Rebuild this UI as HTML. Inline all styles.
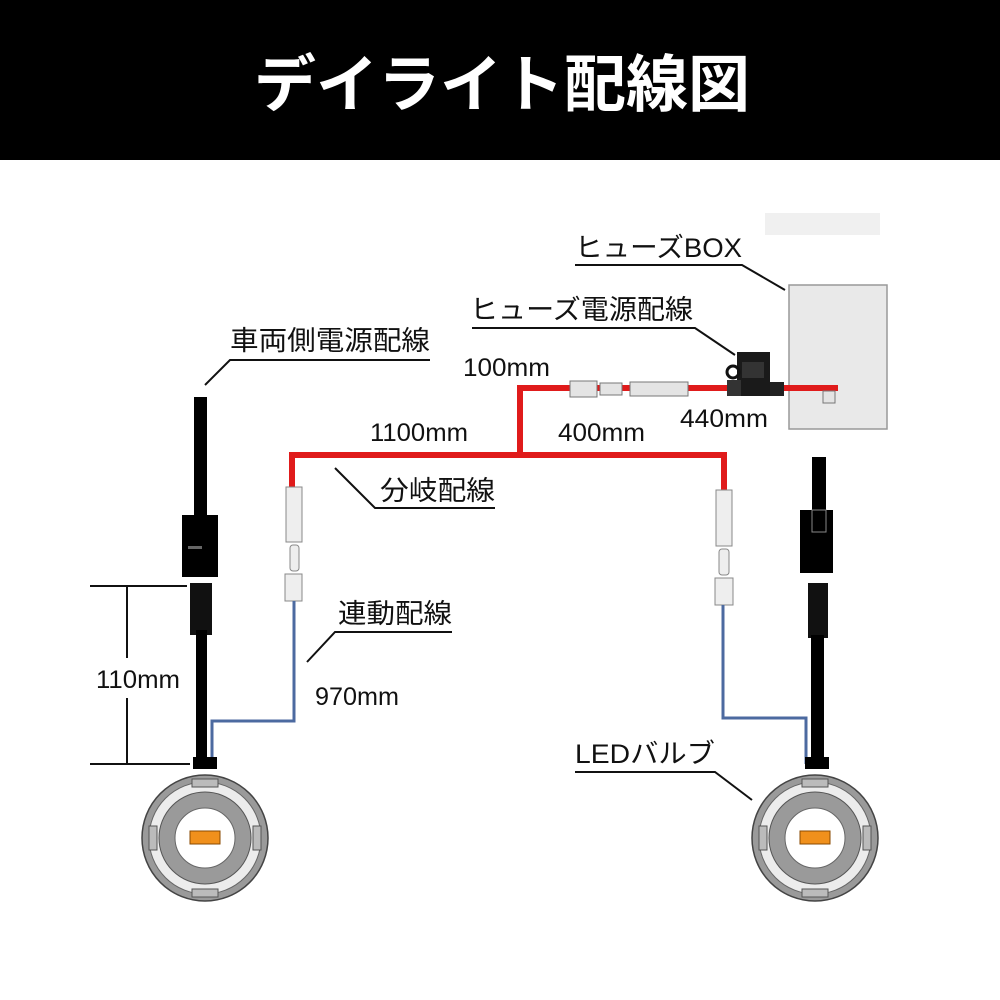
<!DOCTYPE html>
<html><head><meta charset="utf-8"><style>
body{margin:0;background:#fff}
svg{display:block}
text{font-family:"Liberation Sans","Noto Sans CJK JP",sans-serif;fill:#111}
.m{font-family:"Liberation Sans Narrow","Liberation Sans",sans-serif}
</style></head><body>
<svg width="1000" height="1000" viewBox="0 0 1000 1000">
<rect x="0" y="0" width="1000" height="160" fill="#000"/>
<text x="502" y="106" text-anchor="middle" font-size="62" font-weight="bold" style="fill:#fff">デイライト配線図</text>

<rect x="765" y="213" width="115" height="22" fill="#f0f0f0"/>
<rect x="789" y="285" width="98" height="144" fill="#e9e9e9" stroke="#999" stroke-width="1.5"/>

<g stroke="#111" stroke-width="2" fill="none">
<polyline points="575,265 742,265 785,290"/>
<polyline points="472,328 695,328 735,355"/>
<polyline points="430,360 230,360 205,385"/>
<polyline points="495,508 375,508 335,468"/>
<polyline points="452,632 335,632 307,662"/>
<polyline points="575,772 715,772 752,800"/>
<line x1="90" y1="586" x2="187" y2="586"/>
<line x1="90" y1="764" x2="190" y2="764"/>
<line x1="127" y1="586" x2="127" y2="658"/>
<line x1="127" y1="698" x2="127" y2="764"/>
</g>
<g font-size="27">
<text x="575" y="257" textLength="167" lengthAdjust="spacingAndGlyphs">ヒューズBOX</text>
<text x="470" y="319" textLength="223" lengthAdjust="spacingAndGlyphs">ヒューズ電源配線</text>
<text x="230" y="350" textLength="200" lengthAdjust="spacingAndGlyphs">車両側電源配線</text>
<text x="380" y="500" textLength="115" lengthAdjust="spacingAndGlyphs">分岐配線</text>
<text x="338" y="623" textLength="114" lengthAdjust="spacingAndGlyphs">連動配線</text>
<text x="575" y="763" textLength="140" lengthAdjust="spacingAndGlyphs">LEDバルブ</text>
</g>
<g font-size="25">
<text x="463" y="376" textLength="87" lengthAdjust="spacingAndGlyphs">100mm</text>
<text x="370" y="441" textLength="98" lengthAdjust="spacingAndGlyphs">1100mm</text>
<text x="558" y="441" textLength="87" lengthAdjust="spacingAndGlyphs">400mm</text>
<text x="680" y="427" textLength="88" lengthAdjust="spacingAndGlyphs">440mm</text>
<text x="315" y="705" textLength="84" lengthAdjust="spacingAndGlyphs">970mm</text>
<text x="96" y="688" textLength="84" lengthAdjust="spacingAndGlyphs">110mm</text>
</g>

<g stroke="#e01b1b" stroke-width="6" fill="none">
<polyline points="292,490 292,455 724,455 724,492"/>
<polyline points="520,455 520,388 838,388"/>
</g>
<g fill="#e4e4e4" stroke="#777" stroke-width="1">
<rect x="570" y="381" width="27" height="16"/>
<rect x="600" y="383" width="22" height="12"/>
<rect x="630" y="382" width="58" height="14"/>
<rect x="823" y="391" width="12" height="12"/>
</g>
<rect x="737" y="352" width="33" height="44" fill="#1a1a1a"/>
<rect x="742" y="362" width="22" height="16" fill="#333"/>
<rect x="727" y="380" width="14" height="16" fill="#333"/>
<rect x="770" y="382" width="14" height="14" fill="#222"/>
<circle cx="733" cy="372" r="6" fill="none" stroke="#111" stroke-width="3"/>

<g fill="#eee" stroke="#888" stroke-width="1">
<rect x="286" y="487" width="16" height="55"/>
<rect x="290" y="545" width="9" height="26" rx="3"/>
<rect x="285" y="574" width="17" height="27"/>
<rect x="716" y="490" width="16" height="56"/>
<rect x="719" y="549" width="10" height="26" rx="3"/>
<rect x="715" y="578" width="18" height="27"/>
</g>
<g stroke="#4c6aa0" stroke-width="3" fill="none">
<polyline points="294,601 294,721 212,721 212,764"/>
<polyline points="723,605 723,718 806,718 806,764"/>
</g>

<rect x="194" y="397" width="13" height="120" fill="#000"/>
<rect x="182" y="515" width="36" height="62" fill="#000"/>
<rect x="188" y="546" width="14" height="3" fill="#666"/>
<rect x="190" y="583" width="22" height="52" fill="#111"/>
<rect x="196" y="630" width="11" height="135" fill="#000"/>
<rect x="193" y="757" width="24" height="12" fill="#000"/>

<rect x="812" y="457" width="14" height="55" fill="#000"/>
<rect x="800" y="510" width="33" height="63" fill="#000"/>
<rect x="812" y="510" width="14" height="22" fill="none" stroke="#888" stroke-width="1"/>
<rect x="808" y="583" width="20" height="55" fill="#111"/>
<rect x="811" y="635" width="13" height="130" fill="#000"/>
<rect x="805" y="757" width="24" height="12" fill="#000"/>

<g id="b">
<circle cx="205" cy="838" r="63" fill="#9a9a9a" stroke="#444" stroke-width="1.5"/>
<circle cx="205" cy="838" r="56" fill="#ececec" stroke="#666" stroke-width="1"/>
<circle cx="205" cy="838" r="46" fill="#9a9a9a" stroke="#555" stroke-width="1"/>
<circle cx="205" cy="838" r="30" fill="#fff" stroke="#666" stroke-width="1"/>
<rect x="190" y="831" width="30" height="13" fill="#f0901c" stroke="#8a4a00" stroke-width="1"/>
<g fill="#bbb" stroke="#555" stroke-width="1">
<rect x="192" y="779" width="26" height="8"/>
<rect x="192" y="889" width="26" height="8"/>
<rect x="149" y="826" width="8" height="24"/>
<rect x="253" y="826" width="8" height="24"/>
</g>
</g>
<use href="#b" transform="translate(610,0)"/>
</svg>
</body></html>
